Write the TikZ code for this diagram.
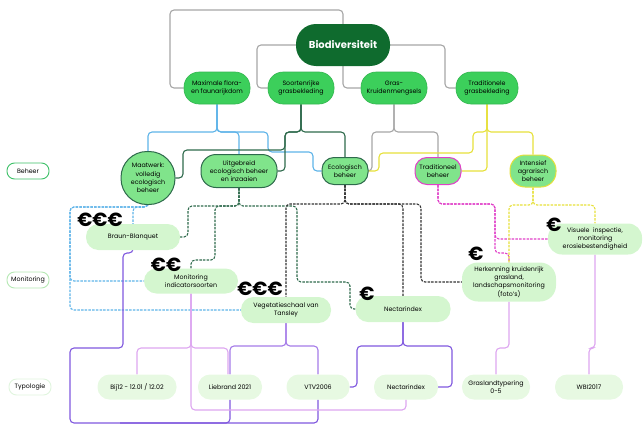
\documentclass[tikz,border=0pt]{standalone}
\usepackage{fontspec}
\setmainfont{Poppins}
\usetikzlibrary{backgrounds}

\definecolor{biodark}{HTML}{0F6B2E}
\definecolor{doelgreen}{HTML}{3CCF5B}
\definecolor{doelline}{HTML}{34B650}
\definecolor{behfill}{HTML}{80E48B}
\definecolor{monfill}{HTML}{D4F6CF}
\definecolor{typfill}{HTML}{E7F9E2}
\definecolor{gry}{HTML}{A6A6A6}
\definecolor{blu}{HTML}{5DB3E8}
\definecolor{dgr}{HTML}{2E6A4C}
\definecolor{yel}{HTML}{E6E03A}
\definecolor{mag}{HTML}{E040C8}
\definecolor{blk}{HTML}{333333}
\definecolor{pur}{HTML}{7F58DE}
\definecolor{pur2}{HTML}{A57BE8}
\definecolor{vio}{HTML}{DDA6F0}
\definecolor{sidebeh}{HTML}{3CC067}
\definecolor{sidemon}{HTML}{B5E8B3}
\definecolor{sidetyp}{HTML}{E0F5DE}

\begin{document}
\begin{tikzpicture}[x=1pt, y=-1pt,
    every node/.style={font=\fontsize{6.3}{8.3}\selectfont, align=center, inner sep=1pt},
    bio/.style={fill=biodark, text=white, rounded corners=20pt, minimum width=94pt, minimum height=42pt, font=\fontsize{10}{12}\selectfont\bfseries},
    doel/.style={fill=doelgreen, draw=doelline, line width=0.6pt, rounded corners=15pt, minimum width=66pt, minimum height=32pt},
    beh/.style={fill=behfill, draw=#1, line width=1pt, rounded corners=12pt},
    mon/.style={fill=monfill, rounded corners=12.5pt, minimum height=26pt, minimum width=94pt},
    typ/.style={fill=typfill, rounded corners=12pt, minimum height=25pt},
    side/.style={draw=#1, fill=white, line width=0.9pt, rounded corners=7.5pt, minimum width=42pt, minimum height=16pt},
    euro/.style={font=\fontsize{19}{19}\selectfont\bfseries, inner sep=0pt},
    link/.style={draw=#1, line width=1.1pt, rounded corners=4pt},
    dlink/.style={link=#1, dash pattern=on 2.5pt off 1.2pt},
]
    \useasboundingbox (0,0) rectangle (644,431);

    % Top and goals
    \node[bio] (bio) at (343,45) {Biodiversiteit};
    \node[doel] (flora) at (217,88) {Maximale flora-\\en faunarijkdom};
    \node[doel] (soort) at (301,88) {Soortenrijke\\grasbekleding};
    \node[doel] (gras) at (394,88) {Gras-\\Kruidenmengsels};
    \node[doel, minimum width=62pt] (tradg) at (487,88) {Traditionele\\grasbekleding};

    % Beheer
    \node[side=sidebeh] (lbeh) at (28,171) {Beheer};
    \node[beh=dgr, minimum width=54pt, minimum height=53pt, rounded corners=26pt] (maat) at (148,178) {Maatwerk:\\volledig\\ecologisch\\beheer};
    \node[beh=dgr, minimum width=76pt, minimum height=33pt, rounded corners=15pt] (uitg) at (239,171) {Uitgebreid\\ecologisch beheer\\en inzaaien};
    \node[beh=dgr, minimum width=46pt, minimum height=27pt] (eco) at (345,171) {Ecologisch\\beheer};
    \node[beh=mag, minimum width=46pt, minimum height=27pt] (tbeh) at (438,171) {Traditioneel\\beheer};
    \node[beh=yel, minimum width=46pt, minimum height=32pt, rounded corners=15pt] (int) at (533,171) {Intensief\\agrarisch\\beheer};

    % Monitoring
    \node[side=sidemon] (lmon) at (28,280) {Monitoring};
    \node[mon] (braun) at (133,237) {Braun-Blanquet};
    \node[mon, minimum height=25pt] (ind) at (191,281) {Monitoring\\indicatorsoorten};
    \node[mon, minimum width=90pt] (veg) at (286,310) {Vegetatieschaal van\\Tansley};
    \node[mon, minimum width=95pt] (nect) at (403,309) {Nectarindex};
    \node[mon, minimum height=39pt, rounded corners=16pt] (herk) at (509,282) {Herkenning kruidenrijk\\grasland,\\landschapsmonitoring\\(foto's)};
    \node[mon, minimum height=31pt, rounded corners=14pt] (vis) at (595,239) {Visuele\ \ inspectie,\\monitoring\\erosiebestendigheid};

    \node[euro] (e1) at (100,220) {€€€};
    \node[euro] (e2) at (166,265) {€€};
    \node[euro] (e3) at (260,289) {€€€};
    \node[euro] (e4) at (367,294) {€};
    \node[euro] (e5) at (476,254) {€};
    \node[euro] (e6) at (554,225) {€};

    % Typologie
    \node[side=sidetyp] (ltyp) at (30,387) {Typologie};
    \node[typ, minimum width=79pt] (bij) at (137,387) {Bij12 - 12.01 / 12.02};
    \node[typ, minimum width=64pt] (lieb) at (230,387) {Liebrand 2021};
    \node[typ, minimum width=63pt] (vtv) at (318,387) {VTV2006};
    \node[typ, minimum width=64pt] (tnect) at (406,387) {Nectarindex};
    \node[typ, minimum width=68pt] (gras5) at (496,387) {Graslandtypering\\0-5};
    \node[typ, minimum width=68pt] (wbi) at (589,387) {WBI2017};

    \begin{scope}[on background layer]
    % Goals
    \draw[link=gry] (bio.north) |- (170,10) |- (flora.west);
    \draw[link=gry] (bio.west) -- (257,45) |- (soort.west);
    \draw[link=gry] (bio.south) |- (gras.west);
    \draw[link=gry] (bio.east) -- (445,45) |- (tradg.west);

    % Goals to beheer
    \draw[link=blu] (flora.south) -- (217,132) -| (maat.north);
    \draw[link=blu] (flora.south) -- (217,132) -| (uitg.north);
    \draw[link=blu] (flora.south) -- (217,132) -- (268,132) -- (268,152) -- (313,152) |- (eco.west);
    \draw[link=dgr] (soort.south) -- (301,132) -- (285,132) |- (uitg.east);
    \draw[link=dgr] (soort.south) -- (301,132) -- (285,132) -- (285,150) -- (183,150) |- (maat.east);
    \draw[link=dgr] (soort.south) -- (301,132) -| (eco.north);
    \draw[link=gry] (gras.south) -- (394,132) -- (372,132) |- (eco.east);
    \draw[link=gry] (gras.south) -- (394,132) -| (tbeh.north);
    \draw[link=yel] (tradg.south) -- (487,132) -- (473,132) -- (473,153) -- (379,153) |- (eco.east);
    \draw[link=yel] (tradg.south) |- (tbeh.east);
    \draw[link=yel] (tradg.south) -- (487,132) -| (int.north);

    % Beheer to monitoring
    \draw[dlink=blu] (maat.south) -- (148,207) -| (braun.north);
    \draw[dlink=blu] (maat.south) -- (148,207) -- (70,207) |- (ind.west);
    \draw[dlink=blu] (maat.south) -- (148,207) -- (70,207) |- (veg.west);
    \draw[dlink=dgr] (uitg.south) -- (239,206) -- (188,206) |- (braun.east);
    \draw[dlink=dgr] (uitg.south) -- (239,206) -- (215,206) -- (215,260) -| (ind.north);
    \draw[dlink=dgr] (uitg.south) -- (239,206) -- (297,206) -- (297,282) -- (350,282) |- (nect.west);
    \draw[dlink=blk] (eco.south) -- (345,204) -| (veg.north);
    \draw[dlink=blk] (eco.south) -- (345,204) -| (nect.north);
    \draw[dlink=blk] (eco.south) -- (345,204) -- (421,204) |- (herk.west);
    \draw[dlink=mag] (tbeh.south) -- (438,204) -- (495,204) |- (vis.west);
    \draw[dlink=mag] (tbeh.south) -- (438,204) -- (495,204) -- (495,253) -| (herk.north);
    \draw[dlink=yel] (int.south) -- (533,205) -| (herk.north);
    \draw[dlink=yel] (int.south) -- (533,205) -| (vis.north);

    % Monitoring to typologie
    \draw[link=pur] (braun.south) -- (133,253) -- (123,253) -- (123,348) -- (70,348) -- (70,423) -| (vtv.south);
    \draw[link=pur] (120,423) -| (lieb.south);
    \draw[link=pur2] (veg.south) -- (286,346) -| (lieb.north);
    \draw[link=pur2] (veg.south) -- (286,346) -| (vtv.north);
    \draw[link=vio] (ind.south) -- (191,348) -| (bij.north);
    \draw[link=vio] (ind.south) -- (191,348) -| ([xshift=-2pt]lieb.north);
    \draw[link=vio] (ind.south) -- (191,410) -| (tnect.south);
    \draw[link=pur] (nect.south) -- (403,346) -- (357,346) |- (vtv.east);
    \draw[link=pur] (nect.south) -- (403,346) -- (452,346) |- (tnect.east);
    \draw[link=vio] (herk.south) -- (509,348) -| (gras5.north);
    \draw[link=vio] (vis.south) -- (595,348) -| (wbi.north);
    \end{scope}
\end{tikzpicture}
\end{document}
